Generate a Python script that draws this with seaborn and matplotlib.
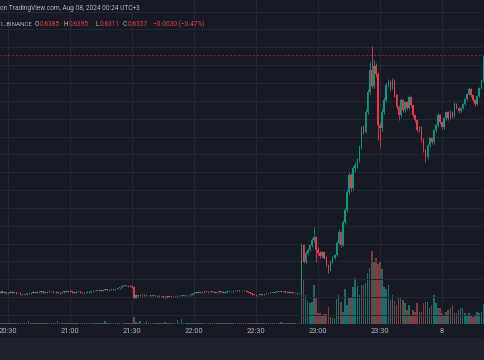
import matplotlib
matplotlib.use("Agg")
import matplotlib.pyplot as plt
from matplotlib.patches import Rectangle
import numpy as np
import pandas as pd
import seaborn as sns

# ---------------- data (1-minute candles, XRPUSDT BINANCE) ----------------
# minutes relative to 20:30 (first candle 20:26, last 00:20)
minute_index = list(range(-4, 231))
tick_minutes = [0, 30, 60, 90, 120, 150, 180, 210]
tick_labels = ["20:30", "21:00", "21:30", "22:00", "22:30", "23:00", "23:30", "8"]

first_open = 0.5714
close_prices = [
    0.5716, 0.5713, 0.5714, 0.5711, 0.5712, 0.5715, 0.5713, 0.5714, 0.5712, 0.5713,
    0.5709, 0.5707, 0.5708, 0.5711, 0.5713, 0.5712, 0.5714, 0.5713, 0.5715, 0.5714,
    0.5716, 0.5714, 0.5713, 0.5715, 0.5717, 0.5716, 0.5714, 0.5715, 0.5713, 0.5712,
    0.5714, 0.5716, 0.5715, 0.5717, 0.5716, 0.5714, 0.5713, 0.5715, 0.5716, 0.5714,
    0.5712, 0.5713, 0.5715, 0.5714, 0.5716, 0.5718, 0.5717, 0.5719, 0.5720, 0.5718,
    0.5720, 0.5722, 0.5721, 0.5720, 0.5722, 0.5721, 0.5723, 0.5725, 0.5728, 0.5731,
    0.5733, 0.5731, 0.5732, 0.5730, 0.5729, 0.5698, 0.5706, 0.5703, 0.5707, 0.5705,
    0.5707, 0.5705, 0.5706, 0.5704, 0.5705, 0.5703, 0.5704, 0.5702, 0.5703, 0.5701,
    0.5700, 0.5702, 0.5701, 0.5702, 0.5703, 0.5702, 0.5704, 0.5703, 0.5705, 0.5704,
    0.5706, 0.5705, 0.5707, 0.5710, 0.5712, 0.5714, 0.5713, 0.5715, 0.5714, 0.5716,
    0.5715, 0.5714, 0.5716, 0.5715, 0.5713, 0.5714, 0.5716, 0.5715, 0.5713, 0.5714,
    0.5716, 0.5717, 0.5716, 0.5718, 0.5717, 0.5719, 0.5718, 0.5717, 0.5718, 0.5716,
    0.5714, 0.5711, 0.5708, 0.5707, 0.5705, 0.5706, 0.5708, 0.5707, 0.5709, 0.5711,
    0.5712, 0.5714, 0.5713, 0.5715, 0.5716, 0.5715, 0.5717, 0.5716, 0.5714, 0.5715,
    0.5713, 0.5714, 0.5712, 0.5713, 0.5711, 0.5712,
    0.5846, 0.5799, 0.5824, 0.5832, 0.5846, 0.5860, 0.5868, 0.5832, 0.5824, 0.5815,
    0.5826, 0.5810, 0.5790, 0.5776, 0.5799, 0.5810, 0.5818, 0.5852, 0.5882, 0.5846,
    0.5910, 0.5944, 0.5994, 0.6042, 0.6006, 0.6062, 0.6070, 0.6084, 0.6120, 0.6174,
    0.6164, 0.6219, 0.6275, 0.6336, 0.6291, 0.6348, 0.6325, 0.6182, 0.6173, 0.6219,
    0.6252, 0.6294, 0.6303, 0.6286, 0.6308, 0.6266, 0.6233, 0.6210, 0.6252, 0.6224,
    0.6246, 0.6230, 0.6261, 0.6238, 0.6210, 0.6196, 0.6168, 0.6176, 0.6140, 0.6112,
    0.6092, 0.6126, 0.6146, 0.6134, 0.6168, 0.6182, 0.6210, 0.6190, 0.6176, 0.6201,
    0.6218, 0.6201, 0.6218, 0.6207, 0.6241, 0.6230, 0.6221, 0.6230, 0.6241, 0.6255,
    0.6269, 0.6283, 0.6266, 0.6252, 0.6241, 0.6263, 0.6286, 0.6308, 0.6370,
]
high_prices = [
    0.5718, 0.5717, 0.5716, 0.5715, 0.5714, 0.5716, 0.5716, 0.5715, 0.5715, 0.5715,
    0.5714, 0.5710, 0.5710, 0.5712, 0.5715, 0.5714, 0.5716, 0.5715, 0.5716, 0.5717,
    0.5718, 0.5717, 0.5715, 0.5716, 0.5719, 0.5718, 0.5717, 0.5717, 0.5716, 0.5714,
    0.5715, 0.5718, 0.5717, 0.5718, 0.5719, 0.5717, 0.5715, 0.5716, 0.5718, 0.5717,
    0.5715, 0.5714, 0.5716, 0.5716, 0.5717, 0.5720, 0.5719, 0.5720, 0.5722, 0.5721,
    0.5721, 0.5723, 0.5724, 0.5722, 0.5724, 0.5723, 0.5724, 0.5726, 0.5729, 0.5733,
    0.5735, 0.5734, 0.5734, 0.5733, 0.5731, 0.5730, 0.5708, 0.5707, 0.5709, 0.5708,
    0.5708, 0.5708, 0.5707, 0.5707, 0.5706, 0.5706, 0.5705, 0.5705, 0.5704, 0.5704,
    0.5702, 0.5703, 0.5703, 0.5704, 0.5704, 0.5704, 0.5705, 0.5705, 0.5707, 0.5706,
    0.5707, 0.5707, 0.5709, 0.5711, 0.5714, 0.5715, 0.5716, 0.5716, 0.5716, 0.5717,
    0.5718, 0.5716, 0.5717, 0.5717, 0.5716, 0.5715, 0.5717, 0.5717, 0.5716, 0.5715,
    0.5717, 0.5719, 0.5718, 0.5719, 0.5719, 0.5720, 0.5720, 0.5719, 0.5719, 0.5719,
    0.5717, 0.5715, 0.5712, 0.5709, 0.5708, 0.5707, 0.5709, 0.5709, 0.5710, 0.5712,
    0.5713, 0.5715, 0.5715, 0.5716, 0.5717, 0.5717, 0.5718, 0.5718, 0.5717, 0.5716,
    0.5716, 0.5715, 0.5715, 0.5714, 0.5714, 0.5713,
    0.5852, 0.5849, 0.5830, 0.5838, 0.5850, 0.5866, 0.5896, 0.5872, 0.5840, 0.5828,
    0.5830, 0.5830, 0.5814, 0.5794, 0.5803, 0.5815, 0.5822, 0.5858, 0.5890, 0.5886,
    0.5915, 0.5950, 0.6000, 0.6050, 0.6048, 0.6068, 0.6078, 0.6090, 0.6126, 0.6180,
    0.6182, 0.6226, 0.6282, 0.6359, 0.6404, 0.6364, 0.6355, 0.6330, 0.6190, 0.6226,
    0.6260, 0.6300, 0.6310, 0.6309, 0.6314, 0.6312, 0.6270, 0.6238, 0.6258, 0.6256,
    0.6250, 0.6250, 0.6266, 0.6264, 0.6242, 0.6214, 0.6200, 0.6180, 0.6180, 0.6145,
    0.6116, 0.6130, 0.6150, 0.6150, 0.6172, 0.6186, 0.6216, 0.6214, 0.6194, 0.6206,
    0.6222, 0.6222, 0.6224, 0.6222, 0.6246, 0.6245, 0.6234, 0.6234, 0.6245, 0.6259,
    0.6273, 0.6288, 0.6287, 0.6270, 0.6256, 0.6267, 0.6290, 0.6312, 0.6378,
]
low_prices = [
    0.5712, 0.5711, 0.5712, 0.5709, 0.5710, 0.5711, 0.5712, 0.5711, 0.5710, 0.5711,
    0.5707, 0.5705, 0.5706, 0.5707, 0.5710, 0.5710, 0.5711, 0.5712, 0.5712, 0.5713,
    0.5713, 0.5713, 0.5711, 0.5712, 0.5714, 0.5715, 0.5713, 0.5713, 0.5711, 0.5710,
    0.5711, 0.5713, 0.5714, 0.5714, 0.5715, 0.5713, 0.5712, 0.5712, 0.5714, 0.5713,
    0.5711, 0.5710, 0.5712, 0.5713, 0.5713, 0.5715, 0.5716, 0.5716, 0.5718, 0.5717,
    0.5717, 0.5719, 0.5720, 0.5718, 0.5719, 0.5720, 0.5720, 0.5722, 0.5724, 0.5727,
    0.5730, 0.5730, 0.5729, 0.5728, 0.5727, 0.5695, 0.5697, 0.5701, 0.5702, 0.5703,
    0.5704, 0.5704, 0.5703, 0.5703, 0.5702, 0.5702, 0.5701, 0.5700, 0.5700, 0.5699,
    0.5698, 0.5699, 0.5700, 0.5700, 0.5701, 0.5701, 0.5701, 0.5702, 0.5702, 0.5703,
    0.5703, 0.5704, 0.5704, 0.5706, 0.5709, 0.5711, 0.5712, 0.5712, 0.5713, 0.5713,
    0.5714, 0.5713, 0.5713, 0.5714, 0.5712, 0.5712, 0.5713, 0.5714, 0.5712, 0.5712,
    0.5713, 0.5715, 0.5715, 0.5715, 0.5716, 0.5716, 0.5717, 0.5716, 0.5716, 0.5715,
    0.5713, 0.5710, 0.5707, 0.5705, 0.5704, 0.5704, 0.5705, 0.5706, 0.5706, 0.5708,
    0.5710, 0.5711, 0.5712, 0.5712, 0.5714, 0.5714, 0.5714, 0.5715, 0.5713, 0.5713,
    0.5712, 0.5712, 0.5711, 0.5711, 0.5710, 0.5710,
    0.5710, 0.5795, 0.5793, 0.5818, 0.5828, 0.5840, 0.5855, 0.5799, 0.5818, 0.5810,
    0.5810, 0.5806, 0.5786, 0.5768, 0.5772, 0.5795, 0.5806, 0.5815, 0.5848, 0.5840,
    0.5842, 0.5905, 0.5938, 0.5990, 0.5998, 0.6000, 0.6050, 0.6062, 0.6080, 0.6115,
    0.6158, 0.6160, 0.6212, 0.6270, 0.6285, 0.6286, 0.6318, 0.6140, 0.6117, 0.6165,
    0.6214, 0.6248, 0.6288, 0.6280, 0.6282, 0.6260, 0.6226, 0.6196, 0.6205, 0.6218,
    0.6219, 0.6225, 0.6226, 0.6232, 0.6205, 0.6190, 0.6162, 0.6164, 0.6134, 0.6106,
    0.6078, 0.6088, 0.6120, 0.6130, 0.6130, 0.6164, 0.6178, 0.6186, 0.6172, 0.6172,
    0.6197, 0.6196, 0.6198, 0.6203, 0.6204, 0.6226, 0.6217, 0.6218, 0.6227, 0.6238,
    0.6252, 0.6265, 0.6262, 0.6248, 0.6236, 0.6238, 0.6260, 0.6282, 0.6304,
]
volumes_k = [
    20, 15, 18, 22, 16, 14, 19, 17, 21, 15,
    24, 20, 18, 16, 85, 22, 17, 15, 19, 16,
    18, 14, 20, 16, 22, 17, 15, 19, 85, 21,
    16, 18, 14, 17, 20, 15, 19, 16, 22, 14,
    17, 15, 18, 16, 21, 19, 15, 17, 24, 18,
    20, 65, 19, 16, 22, 18, 20, 25, 30, 28,
    32, 24, 20, 22, 26, 165, 45, 30, 85, 28,
    35, 65, 22, 18, 20, 16, 19, 17, 21, 18,
    40, 22, 18, 20, 16, 19, 100, 24, 125, 22,
    20, 18, 25, 30, 28, 22, 19, 17, 20, 18,
    16, 19, 15, 18, 20, 17, 15, 19, 16, 18,
    17, 20, 15, 18, 16, 19, 17, 15, 18, 20,
    22, 26, 24, 20, 18, 16, 19, 17, 20, 22,
    18, 16, 19, 15, 17, 20, 40, 16, 18, 15,
    17, 15, 19, 16, 18, 20,
    1450, 1100, 725, 575, 525, 550, 975, 675, 275, 275,
    225, 250, 250, 425, 175, 150, 150, 625, 725, 550,
    300, 875, 475, 650, 650, 925, 1150, 950, 725, 975,
    975, 1025, 1275, 1400, 1825, 1550, 1650, 1500, 1550, 1375,
    925, 875, 975, 600, 725, 575, 475, 675, 650, 600,
    525, 350, 475, 225, 350, 300, 525, 300, 300, 525,
    550, 550, 400, 475, 725, 525, 400, 400, 275, 225,
    300, 350, 400, 475, 275, 275, 350, 400, 400, 275,
    225, 275, 225, 175, 225, 300, 275, 300, 500,
]
last_price_line = 0.6378

header_line1 = "on TradingView.com, Aug 08, 2024 00:24 UTC+3"
header_symbol = "1, BINANCE"
header_ohlc = [("O", "0.6385"), ("H", "0.6395"), ("L", "0.6311"), ("C", "0.6357")]
header_change = "\u22120.0030 (\u22120.47%)"

# ---------------- frame ----------------
df = pd.DataFrame({
    "minute": minute_index,
    "close": close_prices,
    "high": high_prices,
    "low": low_prices,
    "volume": volumes_k,
})
df["open"] = [first_open] + close_prices[:-1]
df["dir"] = np.where(df["close"] >= df["open"], "up", "down")

BG = "#161a25"
STRIP = "#1f222c"
GRID = "#242835"
UP = "#089981"
DOWN = "#f23645"
VUP = "#1e6b67"
VDOWN = "#853a3e"
TXT = "#b2b5be"

sns.set_theme(style="dark")
plt.rcParams["font.family"] = ["Roboto", "DejaVu Sans"]

W, H = 485, 360
fig = plt.figure(figsize=(W / 100, H / 100), dpi=100, facecolor=BG)
fig.patches.append(Rectangle((0, 0), 1, 22 / H, transform=fig.transFigure,
                             facecolor=STRIP, edgecolor="none", zorder=0))

rect = [0, 36 / H, 1, 324 / H]
axv = fig.add_axes(rect)
ax = fig.add_axes(rect, sharex=axv)

XMIN, XMAX = -3.87, 230.8

# volume (seaborn bars on native numeric scale)
sns.barplot(data=df, x="minute", y="volume", hue="dir", native_scale=True,
            dodge=False, palette={"up": VUP, "down": VDOWN}, width=0.75,
            errorbar=None, legend=False, saturation=1, linewidth=0, ax=axv)
axv.set_facecolor(BG)
axv.set_ylim(0, 8100)
axv.set_xlim(XMIN, XMAX)
axv.set_xticks(tick_minutes)
axv.set_xticklabels(tick_labels)
axv.tick_params(axis="x", colors=TXT, labelsize=5.4, length=0, pad=3.0)
axv.set_yticks([])
axv.set_xlabel("")
axv.set_ylabel("")
axv.grid(axis="x", color=GRID, lw=0.7)
for s in axv.spines.values():
    s.set_visible(False)

# price axis on top
ax.patch.set_visible(False)
ax.set_ylim(0.56249, 0.65325)
ax.set_yticks(np.arange(0.565, 0.6501, 0.005))
ax.grid(axis="y", color=GRID, lw=0.7, zorder=0)
ax.tick_params(axis="y", length=0, labelleft=False)
ax.tick_params(axis="x", length=0, labelbottom=False)
for s in ax.spines.values():
    s.set_visible(False)

colors = np.where(df["dir"] == "up", UP, DOWN)
ax.vlines(df["minute"], df["low"], df["high"], colors=colors, lw=0.6, zorder=3)
body = (df["close"] - df["open"]).to_numpy()
body = np.where(np.abs(body) < 0.00006, 0.00006, body)
ax.bar(df["minute"], body, bottom=df["open"], width=0.72, color=colors,
       linewidth=0, zorder=4)
ax.axhline(last_price_line, color=DOWN, alpha=0.45, lw=0.7, ls=(0, (2, 2)), zorder=2)
ax.set_xlim(XMIN, XMAX)

# header
fs = 4.7
fig.text(0 / W, 1 - 8.5 / H, header_line1, color=TXT, fontsize=fs, va="center", ha="left")
fig.text(0 / W, 1 - 24 / H, header_symbol, color=TXT, fontsize=fs * 0.95,
         va="center", ha="left")
value_x = [39.5, 68.5, 99.5, 127.5]
for (lab, val), vx in zip(header_ohlc, value_x):
    fig.text((vx - 0.2) / W, 1 - 24 / H, lab, color=TXT, fontsize=fs, va="center", ha="right")
    fig.text(vx / W, 1 - 24 / H, val, color=DOWN, fontsize=fs, va="center", ha="left")
fig.text(153 / W, 1 - 24 / H, header_change, color=DOWN, fontsize=fs, va="center", ha="left")

fig.savefig("out.png", dpi=100, facecolor=BG)
